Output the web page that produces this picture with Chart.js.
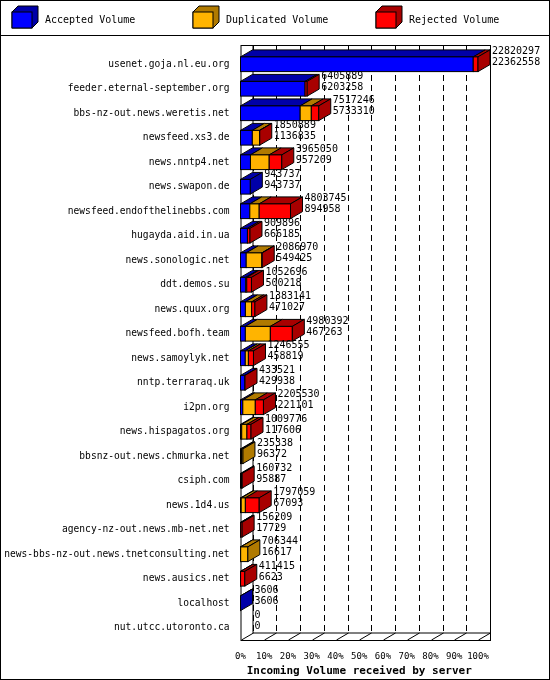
<!DOCTYPE html><html><head><meta charset="utf-8">
<script src="https://cdn.jsdelivr.net/npm/chart.js@4"></script>
<style>body{margin:0;background:#fff}#w{width:550px;height:680px;position:relative}</style></head><body>
<div id="w"><canvas id="c" width="550" height="680"></canvas></div>
<script>
const hosts=["usenet.goja.nl.eu.org","feeder.eternal-september.org","bbs-nz-out.news.weretis.net","newsfeed.xs3.de","news.nntp4.net","news.swapon.de","newsfeed.endofthelinebbs.com","hugayda.aid.in.ua","news.sonologic.net","ddt.demos.su","news.quux.org","newsfeed.bofh.team","news.samoylyk.net","nntp.terraraq.uk","i2pn.org","news.hispagatos.org","bbsnz-out.news.chmurka.net","csiph.com","news.1d4.us","agency-nz-out.news.mb-net.net","news-bbs-nz-out.news.tnetconsulting.net","news.ausics.net","localhost","nut.utcc.utoronto.ca"];
const totalVol=[22820297,6405889,7517246,1850889,3965050,943737,4803745,909896,2086970,1052696,1383141,4980392,1246555,433521,2205530,1009776,235338,160732,1797059,156209,706344,411415,3606,0];
const accepted=[22362558,6203258,5733310,1136835,957209,943737,894958,666185,549425,500218,471027,467263,458819,429938,221101,117606,96372,95887,67093,17729,16617,6623,3606,0];
const duplicated=[0,0,1070000,700000,1800000,0,900000,0,1500000,100000,600000,2400000,300000,0,1200000,500000,138966,0,400000,0,689727,0,0,0];
const rejected=totalVol.map((t,i)=>t-accepted[i]-duplicated[i]);
const xTicks=["0%","10%","20%","30%","40%","50%","60%","70%","80%","90%","100%"];
const maxV=Math.max(...totalVol);
const pct=a=>a.map(v=>v/maxV*100);
const D=12,DY=7,F='"DejaVu Sans Mono", monospace';
const cols=[["#0000ff","#0000a8"],["#ffb400","#b07a00"],["#ff0000","#a80000"]];
const p3d={id:'p3d',
beforeDatasetsDraw(ch){const c=ch.ctx,a=ch.chartArea,xs=ch.scales.x;c.save();
 c.strokeStyle='#000';c.lineWidth=1;
 c.strokeRect(a.left+.5,a.top-DY+.5,a.right+D-a.left,a.bottom-a.top+DY);
 c.beginPath();c.moveTo(a.left+D+.5,a.top-DY);c.lineTo(a.left+D+.5,a.bottom-DY);c.lineTo(a.right+D,a.bottom-DY);c.stroke();
 c.setLineDash([6,4]);
 for(let i=0;i<=10;i++){const x=Math.round(xs.getPixelForValue(i*10))+.5;c.beginPath();c.moveTo(x+D,a.top-DY);c.lineTo(x+D,a.bottom-DY);c.stroke();}
 c.setLineDash([]);
 for(let i=0;i<=10;i++){const x=Math.round(xs.getPixelForValue(i*10))+.5;c.beginPath();c.moveTo(x,a.bottom);c.lineTo(x+D,a.bottom-DY);c.stroke();}
 c.restore();},
afterDatasetsDraw(ch){const c=ch.ctx;c.save();c.strokeStyle='#000';c.lineWidth=1;
 const n=hosts.length;
 for(let i=0;i<n;i++){let last=null;
  for(let d=0;d<3;d++){const el=ch.getDatasetMeta(d).data[i];const w=el.x-el.base;
   const t=el.y-el.height/2;
   if(w>0.01){c.fillStyle=cols[d][1];c.beginPath();c.moveTo(el.base,t);c.lineTo(el.base+D,t-DY);c.lineTo(el.x+D,t-DY);c.lineTo(el.x,t);c.closePath();c.fill();c.stroke();
    c.fillStyle=cols[d][0];c.fillRect(el.base,t,w,el.height);c.strokeRect(el.base,t,w,el.height);last=[el,d];}}
  const e0=ch.getDatasetMeta(0).data[i];const t=e0.y-e0.height/2;
  if(last){const [el,d]=last;c.fillStyle=cols[d][1];c.beginPath();c.moveTo(el.x,t);c.lineTo(el.x+D,t-DY);c.lineTo(el.x+D,t-DY+el.height);c.lineTo(el.x,t+el.height);c.closePath();c.fill();c.stroke();}
  const ex=Math.max(e0.x,ch.getDatasetMeta(2).data[i].x)+D+2;
  c.fillStyle='#000';c.font='10px '+F;c.textAlign='left';c.textBaseline='top';
  c.fillText(String(totalVol[i]),ex,t-DY-3);c.fillText(String(accepted[i]),ex,t-DY+8);}
 const L=[["Accepted Volume",12],["Duplicated Volume",193],["Rejected Volume",376]];
 L.forEach(([s,x],d)=>{c.fillStyle=cols[d][1];c.beginPath();c.moveTo(x,12);c.lineTo(x+6,6);c.lineTo(x+26,6);c.lineTo(x+26,22);c.lineTo(x+20,28);c.lineTo(x,28);c.closePath();c.fill();c.stroke();
  c.fillStyle=cols[d][0];c.fillRect(x,12,20,16);c.strokeRect(x,12,20,16);
  c.fillStyle='#000';c.font='10px '+F;c.textBaseline='middle';c.fillText(s,x+33,20);});
 c.beginPath();c.moveTo(0,35.5);c.lineTo(550,35.5);c.stroke();
 c.strokeRect(.5,.5,549,679);
 c.restore();}};
new Chart(document.getElementById('c'),{type:'bar',
data:{labels:hosts,datasets:[
 {label:'Accepted Volume',data:pct(accepted),backgroundColor:'rgba(0,0,0,0)'},
 {label:'Duplicated Volume',data:pct(duplicated),backgroundColor:'rgba(0,0,0,0)'},
 {label:'Rejected Volume',data:pct(rejected),backgroundColor:'rgba(0,0,0,0)'}]},
options:{indexAxis:'y',responsive:false,animation:false,devicePixelRatio:1,
 layout:{padding:{top:52,right:72,bottom:2,left:3}},
 barPercentage:0.6,categoryPercentage:1,
 plugins:{legend:{display:false},tooltip:{enabled:false}},
 scales:{x:{stacked:true,min:0,max:100,grid:{display:false},border:{display:false},
   ticks:{stepSize:10,color:'#000',minRotation:0,maxRotation:0,autoSkip:false,font:{family:F,size:9},callback:(v,i)=>xTicks[i]},
   title:{display:true,text:'Incoming Volume received by server',color:'#000',font:{family:F,size:11,weight:'bold'},padding:0}},
  y:{stacked:true,grid:{display:false},border:{display:false},ticks:{color:'#000',padding:3,font:{family:F,size:9.6},autoSkip:false}}}},
plugins:[p3d]});
</script></body></html>
